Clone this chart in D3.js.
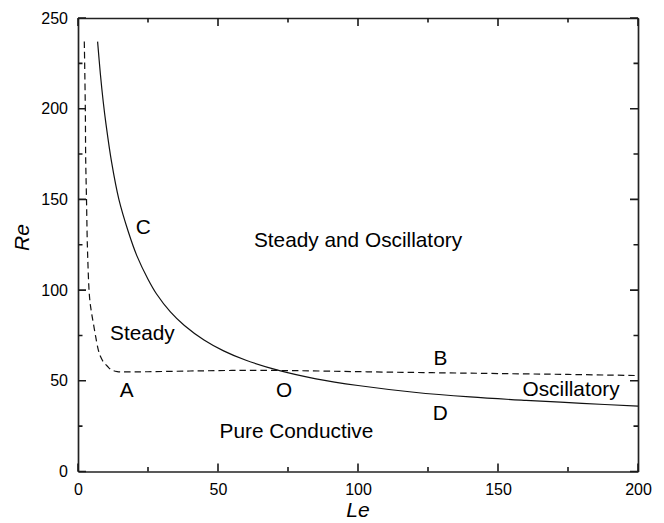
<!DOCTYPE html>
<html><head><meta charset="utf-8">
<script src="https://cdn.jsdelivr.net/npm/d3@7"></script>
<style>body{margin:0;background:#fff}svg{display:block}text{font-family:"Liberation Sans",Arial,sans-serif;fill:#000}</style>
</head><body>
<svg id="c" width="664" height="523"></svg>
<script>
// Solid curve (C–O–D)
const solidLe = [7, 8, 9, 10, 12, 14.6, 18, 21, 25, 28, 33, 38, 45, 52, 60, 72, 85, 100, 120, 140, 160, 180, 200];
const solidRe = [237, 219, 204, 191.5, 170.5, 150, 132, 119, 106, 98, 88, 80.5, 72.5, 66.5, 61.3, 55.6, 51.1, 47.4, 43.7, 41.1, 39.2, 37.6, 36];
// Dashed curve (A–O–B)
const dashLe = [2.25, 2.61, 2.75, 3.04, 3.39, 4.11, 4.75, 5.46, 6.3, 7.25, 8.0, 9.04, 10.5, 12, 14, 16.8, 25, 40, 55, 72, 90, 110, 130, 150, 175, 200];
const dashRe = [237, 200.6, 171.9, 149.8, 122.2, 96.3, 88.3, 81.9, 74.5, 67.1, 63.5, 60.5, 58, 56, 55.1, 54.9, 55.0, 55.4, 55.7, 55.7, 55.3, 54.8, 54.4, 54.0, 53.5, 52.9];
const xTicks = [0, 50, 100, 150, 200];
const yTicks = [0, 50, 100, 150, 200, 250];
const xMinor = [25, 75, 125, 175];
const yMinor = [25, 75, 125, 175, 225];
const regionLabels = [
  {t:"Steady and Oscillatory", x:100, y:127.7},
  {t:"C", x:23.3, y:135},
  {t:"Steady", x:23, y:76.4},
  {t:"B", x:129.4, y:62.5},
  {t:"A", x:17.4, y:45},
  {t:"O", x:73.6, y:45},
  {t:"Oscillatory", x:176.1, y:45.8},
  {t:"D", x:129.4, y:32.6},
  {t:"Pure Conductive", x:78, y:22.4}
];

const svg = d3.select("#c");
const L = 78, R = 638, T = 18, B = 471.5;
const x = d3.scaleLinear().domain([0, 200]).range([L, R]);
const y = d3.scaleLinear().domain([0, 250]).range([B, T]);

const lineD = d3.line().x(d => x(d[0])).y(d => y(d[1])).curve(d3.curveCatmullRom.alpha(0.5));
svg.append("path").datum(solidLe.map((v,i)=>[v, solidRe[i]]))
  .attr("d", lineD).attr("fill","none").attr("stroke","#111").attr("stroke-width",1.2);
svg.append("path").datum(dashLe.map((v,i)=>[v, dashRe[i]]))
  .attr("d", lineD).attr("fill","none").attr("stroke","#111").attr("stroke-width",1.2)
  .attr("stroke-dasharray","6.5,4");

function styleAxis(g){
  g.select(".domain").attr("stroke","#222").attr("stroke-width",1.7);
  g.selectAll(".tick line").remove();
  g.selectAll(".tick text").style("font-size","16px").style("font-family","'Liberation Sans',Arial,sans-serif");
}
const axB = svg.append("g").attr("transform",`translate(0,${B})`)
  .call(d3.axisBottom(x).tickValues(xTicks).tickSizeInner(0).tickSizeOuter(0).tickPadding(12).tickFormat(d3.format("d")));
styleAxis(axB);
const axL = svg.append("g").attr("transform",`translate(${L},0)`)
  .call(d3.axisLeft(y).tickValues(yTicks).tickSizeInner(0).tickSizeOuter(0).tickPadding(10).tickFormat(d3.format("d")));
styleAxis(axL);
const axT = svg.append("g").attr("transform",`translate(0,${T})`)
  .call(d3.axisTop(x).tickValues(xTicks).tickSizeInner(0).tickSizeOuter(0).tickFormat(""));
styleAxis(axT);
const axR = svg.append("g").attr("transform",`translate(${R},0)`)
  .call(d3.axisRight(y).tickValues(yTicks).tickSizeInner(0).tickSizeOuter(0).tickFormat(""));
styleAxis(axR);

// inward tick marks on all four sides
function tickPath(vals, len){
  let d = "";
  vals.forEach(v=>{ const px = x(v); d += `M${px},${B}V${B-len}M${px},${T}V${T+len}`; });
  return d;
}
function tickPathY(vals, len){
  let d = "";
  vals.forEach(v=>{ const py = y(v); d += `M${L},${py}H${L+len}M${R},${py}H${R-len}`; });
  return d;
}
svg.append("path").attr("d", tickPath(xTicks, 8) + tickPath(xMinor, 4.5) + tickPathY(yTicks, 8) + tickPathY(yMinor, 4.5))
  .attr("fill","none").attr("stroke","#1a1a1a").attr("stroke-width",1.6);

svg.append("text").attr("x", 358).attr("y", 516.5).attr("text-anchor","middle")
  .style("font-size","21px").style("font-style","italic").text("Le");
svg.append("text").attr("transform",`translate(29,237.5) rotate(-90)`).attr("text-anchor","middle")
  .style("font-size","21px").style("font-style","italic").text("Re");

svg.selectAll("text.lab").data(regionLabels).enter().append("text").attr("class","lab")
  .attr("x", d => x(d.x)).attr("y", d => y(d.y)).attr("text-anchor","middle").attr("dy","0.35em")
  .style("font-size","20.8px").text(d => d.t);
</script>
</body></html>
